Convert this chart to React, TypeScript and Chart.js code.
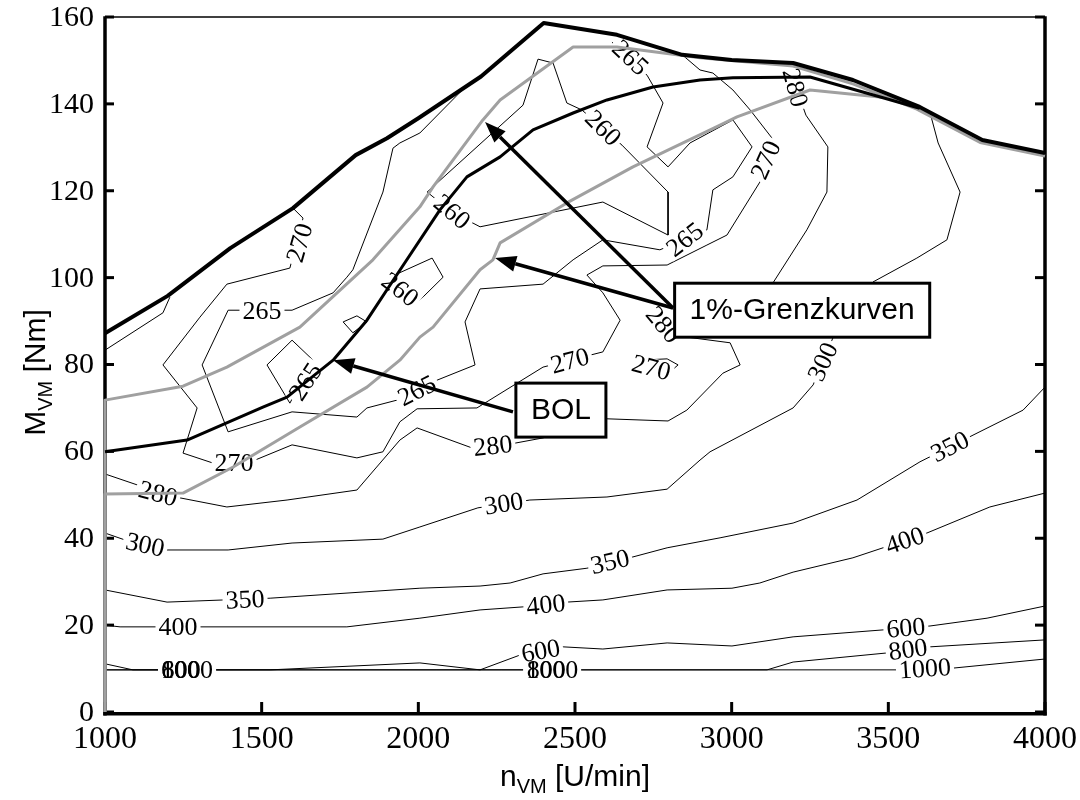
import React, { useEffect, useRef } from "react";
import { Chart, registerables } from "chart.js";

Chart.register(...registerables);

type P = [number, number];

// ---------- axis ticks ----------
const xTicks = [1000, 1500, 2000, 2500, 3000, 3500, 4000];
const yTicks = [0, 20, 40, 60, 80, 100, 120, 140, 160];

// ---------- thick curves (rpm, Nm) ----------
const fullLoad: P[] = [[1000, 87.2], [1200, 95.8], [1400, 106.8], [1600, 116.0], [1800, 128.2], [1900, 132.1], [2000, 136.7], [2200, 146.3], [2400, 158.6], [2634, 155.9], [2842, 151.3], [3000, 150.1], [3196, 149.4], [3387, 145.5], [3600, 139.3], [3800, 131.7], [4000, 128.7]];
const bolCurve: P[] = [[1000, 59.9], [1262, 62.6], [1504, 70.2], [1581, 72.5], [1728, 81.0], [1836, 90.2], [1941, 101.7], [2069, 115.6], [2155, 123.2], [2261, 127.8], [2366, 134.0], [2494, 137.9], [2602, 140.9], [2749, 143.9], [2899, 145.5], [3004, 146.0], [3250, 146.2], [3483, 141.4], [3600, 139.0]];
const limitUpper: P[] = [[1000, 0], [1000, 71.8], [1249, 75.0], [1389, 79.4], [1622, 88.6], [1855, 104.1], [2005, 116.3], [2047, 120.9], [2206, 136.3], [2261, 140.9], [2494, 153.1], [2634, 153.1], [2899, 150.6], [3196, 148.7], [3387, 144.6], [3591, 138.8], [3793, 131.1], [4000, 128.0]];
const limitLower: P[] = [[1000, 0], [1000, 50.2], [1249, 50.4], [1409, 56.4], [1622, 65.6], [1836, 74.8], [1941, 81.0], [2005, 86.3], [2047, 88.6], [2197, 101.8], [2238, 104.1], [2261, 108.0], [2474, 117.2], [2685, 125.5], [2963, 135.1], [3017, 137.0], [3250, 143.2], [3496, 141.4], [3600, 139.0]];

// ---------- contour lines (rpm, Nm) ----------
const c1000: P[] = [[1000, 9.7], [3528, 9.7], [3706, 10.1], [4000, 12.2]];
const c800: P[] = [[1000, 9.7], [3113, 9.7], [3196, 11.5], [3496, 13.6], [3633, 15.0], [4000, 16.6]];
const c600: P[] = [[1000, 11.1], [1089, 9.7], [1527, 9.7], [2005, 11.3], [2197, 9.7], [2324, 13.1], [2462, 15.0], [2589, 14.5], [2794, 15.9], [3001, 15.2], [3196, 17.3], [3483, 18.9], [3633, 19.8], [3815, 21.6], [4000, 24.4]];
const c400: P[] = [[1000, 20.0], [1048, 19.6], [1772, 19.6], [2005, 21.6], [2197, 23.5], [2334, 24.2], [2474, 25.3], [2589, 25.8], [2794, 28.1], [3001, 28.5], [3090, 29.7], [3196, 32.2], [3387, 35.5], [3483, 37.8], [3623, 41.2], [3824, 47.2], [4000, 50.4]];
const c350: P[] = [[1000, 28.1], [1198, 25.3], [1527, 26.2], [2005, 28.5], [2197, 29.0], [2293, 29.7], [2398, 31.8], [2538, 33.1], [2685, 35.7], [2794, 37.8], [2963, 40.1], [3196, 43.5], [3400, 48.8], [3601, 57.6], [3783, 64.2], [3930, 69.5], [4000, 74.8]];
const c300: P[] = [[1000, 41.2], [1064, 39.6], [1198, 37.3], [1393, 37.3], [1597, 38.9], [1887, 39.8], [2005, 42.6], [2190, 47.0], [2356, 48.8], [2602, 49.5], [2794, 51.3], [2899, 58.0], [2931, 59.9], [3196, 70.0], [3260, 75.3], [3323, 86.1], [3451, 99.0], [3591, 104.5], [3687, 108.7], [3729, 119.7], [3659, 131.0], [3633, 138.0]];
const c280: P[] = [[1000, 54.8], [1102, 52.3], [1239, 49.3], [1389, 47.2], [1581, 48.8], [1804, 51.1], [1941, 62.6], [1996, 65.4], [2171, 60.8], [2309, 61.9], [2398, 63.1], [2602, 67.5], [2797, 67.0], [2857, 69.5], [2972, 78.0], [3027, 79.9], [2995, 85.0], [2826, 86.6], [2899, 90.7], [3132, 98.8], [3240, 111.0], [3304, 119.7], [3307, 130.1], [3237, 137.4], [3177, 149.6]];
const c270: P[] = [[1600, 116.0], [1632, 113.7], [1590, 102.2], [1389, 98.5], [1303, 90.9], [1185, 79.9], [1294, 70.0], [1249, 59.6], [1345, 57.3], [1479, 58.0], [1597, 61.5], [1804, 58.5], [1887, 59.9], [1941, 66.8], [1996, 69.8], [2187, 70.0], [2398, 79.4], [2589, 82.9], [2644, 90.2], [2589, 96.5], [2538, 100.6], [2589, 102.7], [2794, 102.9], [2921, 107.5], [2985, 109.8], [3090, 122.0], [3129, 132.1], [3059, 138.6], [3004, 143.2], [2940, 147.1], [2899, 147.8], [2842, 151.3]];
const c270Edge: P[] = [[1207, 95.5], [1185, 91.9], [1000, 83.3]];
const c270Loop: P[] = [[2708, 81.0], [2794, 81.3], [2829, 79.9], [2803, 78.3], [2708, 78.0], [2708, 81.0]];
const c265: P[] = [[2150, 143.9], [2005, 133.3], [1941, 131.0], [1919, 129.8], [1887, 119.7], [1791, 101.8], [1772, 100.1], [1728, 96.5], [1597, 92.5], [1393, 92.5], [1310, 79.9], [1393, 64.5], [1597, 69.1], [1804, 67.9], [1836, 70.0], [1932, 71.8], [2060, 76.4], [2181, 79.9], [2149, 89.8], [2197, 97.4], [2398, 98.5], [2494, 104.1], [2589, 108.7], [2771, 106.4], [2921, 111.0], [2940, 120.2], [3004, 123.2], [3065, 130.1], [3004, 136.3], [2867, 131.0], [2797, 125.5], [2730, 130.1], [2781, 140.2], [2730, 146.6], [2618, 154.2]];
const c265Loop: P[] = [[1517, 79.9], [1597, 85.6], [1664, 81.0], [1590, 71.1], [1517, 79.9]];
const cSmallLoop: P[] = [[1760, 89.8], [1804, 91.2], [1836, 89.8], [1791, 87.3], [1760, 89.8]];
const c260: P[] = [[2382, 150.3], [2430, 149.4], [2474, 140.2], [2522, 138.6], [2650, 130.5], [2797, 119.7], [2797, 109.8], [2589, 117.4], [2197, 111.7], [2107, 115.1], [2028, 119.7], [2334, 139.7], [2382, 150.3]];
const c260Loop: P[] = [[1903, 99.9], [2044, 104.5], [2079, 100.1], [1999, 94.4], [1903, 99.9]];

// ---------- contour labels: text, rpm, Nm, rotation (deg) ----------
const contourLabels: [string, number, number, number][] = [
  ["1000", 1262, 9.7, 0], ["600", 1241, 9.7, 0], ["800", 1243, 9.7, 0],
  ["1000", 2427, 9.7, 0], ["800", 2408, 9.7, 0],
  ["600", 2391, 14.0, -10], ["600", 3556, 19.3, -5],
  ["800", 3563, 14.3, -8], ["1000", 3617, 9.9, -4],
  ["400", 1233, 19.6, 0], ["400", 2407, 24.6, -6], ["400", 3553, 39.4, -19],
  ["350", 1447, 25.8, -3], ["350", 2612, 34.5, -13], ["350", 3697, 61.0, -27],
  ["300", 1128, 38.4, 12], ["300", 2273, 47.9, -9], ["300", 3292, 80.6, -65],
  ["280", 1169, 50.2, 15], ["280", 2238, 61.2, -6], ["280", 2781, 89.1, 50], ["280", 3202, 143.7, 75],
  ["270", 1622, 108.0, -74], ["270", 1412, 57.3, 0], ["270", 2484, 80.8, -15], ["270", 3110, 127.1, -66], ["270", 2743, 79.2, 15],
  ["265", 1501, 92.3, 0], ["265", 1996, 73.9, -27], ["265", 2851, 108.7, -38], ["265", 2676, 150.6, 43], ["265", 1641, 76.0, -57],
  ["260", 2589, 134.4, 45], ["260", 2107, 115.1, 40], ["260", 1941, 97.2, 38],
];

// ---------- annotations (rpm, Nm) ----------
const limitBoxAt: P = [3225, 92.5];
const bolBoxAt: P = [2455, 69.5];
const limitArrowFrom: P = [2813, 93.0];
const limitArrowTips: P[] = [[2213, 135.8], [2245, 104.5]];
const bolArrowFrom: P = [2302, 69.1];
const bolArrowTip: P = [1728, 81.0];

const SERIF = '"Liberation Serif", "Times New Roman", serif';
const SANS = '"Liberation Sans", Arial, sans-serif';
const GREY = "#a0a0a0";

const toXY = (pts: P[]) => pts.map(([x, y]) => ({ x, y }));

const thick = (pts: P[], color: string, w: number) => ({
  data: toXY(pts), showLine: true, borderColor: color, borderWidth: w,
  pointRadius: 0, fill: false, borderJoinStyle: "round" as const, clip: 6,
});
const thin = (pts: P[]) => ({
  data: toXY(pts), showLine: true, borderColor: "#000", borderWidth: 1,
  pointRadius: 0, fill: false, clip: 2,
});

const thinSets = [c1000, c800, c600, c400, c350, c300, c280, c270, c270Edge, c270Loop, c265, c265Loop, cSmallLoop, c260, c260Loop];
const FIRST_THIN = 4;

function drawArrow(ctx: CanvasRenderingContext2D, x0: number, y0: number, x1: number, y1: number) {
  const a = Math.atan2(y1 - y0, x1 - x0);
  const L = 21, W = 8;
  const bx = x1 - L * Math.cos(a), by = y1 - L * Math.sin(a);
  ctx.lineWidth = 3.5;
  ctx.beginPath(); ctx.moveTo(x0, y0); ctx.lineTo(bx, by); ctx.stroke();
  ctx.beginPath(); ctx.moveTo(x1, y1);
  ctx.lineTo(bx + W * Math.sin(a), by - W * Math.cos(a));
  ctx.lineTo(bx - W * Math.sin(a), by + W * Math.cos(a));
  ctx.closePath(); ctx.fill();
}

function drawBox(ctx: CanvasRenderingContext2D, cx: number, cy: number, text: string) {
  ctx.font = `30px ${SANS}`;
  const w = ctx.measureText(text).width + 30, h = 54;
  ctx.fillStyle = "#fff"; ctx.fillRect(cx - w / 2, cy - h / 2, w, h);
  ctx.lineWidth = 3; ctx.strokeStyle = "#000"; ctx.strokeRect(cx - w / 2, cy - h / 2, w, h);
  ctx.fillStyle = "#000"; ctx.textAlign = "center"; ctx.textBaseline = "middle";
  ctx.fillText(text, cx, cy + 1);
}

const decor = {
  id: "decor",
  beforeDatasetsDraw(chart: any) {
    const { ctx, chartArea: a, scales } = chart;
    const xs = scales.x, ys = scales.y;
    ctx.save();
    ctx.strokeStyle = "#000"; ctx.fillStyle = "#000";
    const seg = (x0: number, y0: number, x1: number, y1: number) => { ctx.beginPath(); ctx.moveTo(x0, y0); ctx.lineTo(x1, y1); ctx.stroke(); };
    ctx.lineWidth = 3;
    for (const t of xTicks) { const px = xs.getPixelForValue(t); seg(px, a.bottom, px, a.bottom - 10); }
    for (const t of yTicks) { const py = ys.getPixelForValue(t); seg(a.left, py, a.left + 9, py); seg(a.right, py, a.right - 10, py); }
    ctx.lineWidth = 1.5; seg(a.left, a.top, a.right, a.top);
    ctx.lineWidth = 3.5;
    seg(a.left, a.top - 0.75, a.left, a.bottom + 3.5);
    seg(a.right, a.top - 0.75, a.right, a.bottom + 3.5);
    seg(a.left - 1.75, a.bottom + 1.75, a.right + 1.75, a.bottom + 1.75);

    // tick labels
    ctx.font = `32px ${SERIF}`; ctx.textAlign = "center"; ctx.textBaseline = "alphabetic";
    for (const t of xTicks) ctx.fillText(String(t), xs.getPixelForValue(t), a.bottom + 36);
    ctx.font = `30px ${SERIF}`; ctx.textAlign = "right"; ctx.textBaseline = "middle";
    for (const t of yTicks) ctx.fillText(String(t), a.left - 11, ys.getPixelForValue(t) + 1);

    // axis titles with subscripts
    const title = (main: string, sub: string, rest: string) => {
      ctx.font = `30px ${SANS}`; const w1 = ctx.measureText(main).width; const w3 = ctx.measureText(rest).width;
      ctx.font = `20px ${SANS}`; const w2 = ctx.measureText(sub).width;
      const total = w1 + w2 + w3; let x = -total / 2;
      ctx.textAlign = "left"; ctx.textBaseline = "alphabetic";
      ctx.font = `30px ${SANS}`; ctx.fillText(main, x, 0); x += w1;
      ctx.font = `20px ${SANS}`; ctx.fillText(sub, x, 7); x += w2;
      ctx.font = `30px ${SANS}`; ctx.fillText(rest, x, 0);
    };
    ctx.save(); ctx.translate((a.left + a.right) / 2, 786); title("n", "VM", " [U/min]"); ctx.restore();
    ctx.save(); ctx.translate(45, (a.top + a.bottom) / 2 + 8); ctx.rotate(-Math.PI / 2); title("M", "VM", " [Nm]"); ctx.restore();
    ctx.restore();
  },
  afterDatasetDraw(chart: any, args: any) {
    if (args.index !== FIRST_THIN) return;
    const { ctx, scales } = chart;
    ctx.save();
    ctx.font = `26px ${SERIF}`;
    const items = contourLabels.map(([t, r, n, ang]) => ({
      t, px: scales.x.getPixelForValue(r), py: scales.y.getPixelForValue(n),
      a: (ang * Math.PI) / 180, w: ctx.measureText(t).width,
    }));
    ctx.fillStyle = "#fff";
    for (const it of items) {
      ctx.save(); ctx.translate(it.px, it.py); ctx.rotate(it.a);
      ctx.fillRect(-it.w / 2 - 3, -10, it.w + 6, 20); ctx.restore();
    }
    ctx.fillStyle = "#000"; ctx.textAlign = "center"; ctx.textBaseline = "middle";
    for (const it of items) {
      ctx.save(); ctx.translate(it.px, it.py); ctx.rotate(it.a);
      ctx.fillText(it.t, 0, 1); ctx.restore();
    }
    ctx.restore();
  },
  afterDatasetsDraw(chart: any) {
    const { ctx, scales } = chart;
    const X = (v: number) => scales.x.getPixelForValue(v);
    const Y = (v: number) => scales.y.getPixelForValue(v);
    ctx.save();
    ctx.strokeStyle = "#000"; ctx.fillStyle = "#000"; ctx.lineCap = "butt";
    for (const tip of limitArrowTips) drawArrow(ctx, X(limitArrowFrom[0]), Y(limitArrowFrom[1]), X(tip[0]), Y(tip[1]));
    drawArrow(ctx, X(bolArrowFrom[0]), Y(bolArrowFrom[1]), X(bolArrowTip[0]), Y(bolArrowTip[1]));
    drawBox(ctx, X(limitBoxAt[0]), Y(limitBoxAt[1]), "1%-Grenzkurven");
    drawBox(ctx, X(bolBoxAt[0]), Y(bolBoxAt[1]), "BOL");
    ctx.restore();
  },
};

export default function App() {
  const ref = useRef<HTMLCanvasElement>(null);
  useEffect(() => {
    if (!ref.current) return;
    const chart = new Chart(ref.current, {
      type: "scatter",
      data: {
        datasets: [
          thick(fullLoad, "#000", 4),
          thick(bolCurve, "#000", 3),
          thick(limitUpper, GREY, 3),
          thick(limitLower, GREY, 3),
          ...thinSets.map(thin),
        ] as any,
      },
      options: {
        responsive: false,
        animation: false,
        events: [],
        layout: { padding: { left: 105, right: 35, top: 17, bottom: 88 } },
        plugins: { legend: { display: false }, tooltip: { enabled: false } },
        elements: { line: { tension: 0 }, point: { radius: 0 } },
        scales: {
          x: { type: "linear", min: 1000, max: 4000, display: false },
          y: { type: "linear", min: 0, max: 160, display: false },
        },
      } as any,
      plugins: [decor as any],
    });
    return () => chart.destroy();
  }, []);
  return (
    <div style={{ position: "absolute", left: 0, top: 0, width: 1080, height: 800, background: "#fff" }}>
      <canvas ref={ref} width={1080} height={800} style={{ display: "block", width: 1080, height: 800 }} />
    </div>
  );
}
